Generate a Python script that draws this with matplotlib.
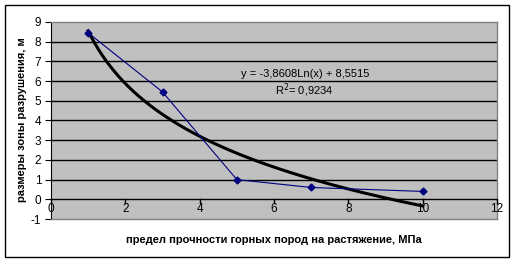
import numpy as np
import matplotlib
matplotlib.use("Agg")
import matplotlib.pyplot as plt
from matplotlib.patches import Rectangle

plt.rcParams['font.family'] = ['Liberation Sans', 'DejaVu Sans']

# data
strength = [1, 3, 5, 7, 10]
zone_size = [8.45, 5.45, 1.0, 0.6, 0.4]

# logarithmic trendline shown on the chart
coef_a = -3.8608
coef_b = 8.5515
eq_text = "y = -3,8608Ln(x) + 8,5515"
r2_text = "R$^2$= 0,9234"

xticks = [0, 2, 4, 6, 8, 10, 12]
yticks = [-1, 0, 1, 2, 3, 4, 5, 6, 7, 8, 9]

W, H = 517, 261
fig = plt.figure(figsize=(W / 100, H / 100), dpi=100)
fig.patch.set_facecolor('white')

# outer chart frame
fig.add_artist(Rectangle((5 / W, 1 - 257 / H), 504 / W, 252 / H, transform=fig.transFigure,
                         fill=False, edgecolor='black', linewidth=1))

left, right, top, bottom = 51, 497, 22, 219
ax = fig.add_axes([left / W, 1 - bottom / H, (right - left) / W, (bottom - top) / H])
ax.set_facecolor('#C0C0C0')
ax.set_xlim(0, 12)
ax.set_ylim(-1, 9)

for y in yticks[1:-1]:
    ax.axhline(y, color='black', linewidth=1, zorder=1)

for side in ['top', 'right', 'bottom']:
    ax.spines[side].set_color('#808080')
    ax.spines[side].set_linewidth(1)
ax.spines['left'].set_color('black')

ax.set_yticks(yticks)
ax.set_yticklabels([str(v) for v in yticks], fontsize=8.5)
ax.tick_params(axis='y', length=4, direction='out', pad=3)

ax.set_xticks([])
# x axis crosses at y=0 in the reference
for x in xticks:
    ax.plot([x, x], [0, -0.17], color='black', linewidth=1, clip_on=False, zorder=3)
    ax.text(x, -0.2, str(x), ha='center', va='top', fontsize=8.5, zorder=4)

xs = np.linspace(min(strength), max(strength), 200)
ax.plot(xs, coef_a * np.log(xs) + coef_b, color='black', linewidth=2.2, zorder=2)
ax.plot(strength, zone_size, color='#000080', linewidth=0.8, marker='D', markersize=3.5,
        markerfacecolor='#000080', markeredgecolor='#000080', zorder=3)

ax.text(6.85, 6.1, eq_text, ha='center', va='bottom', fontsize=8)
ax.text(6.82, 5.55, r2_text, ha='center', va='center', fontsize=8)

fig.text(274 / W, 1 - 240 / H, "предел прочности горных пород на растяжение, МПа",
         ha='center', va='center', fontsize=8, fontweight='bold')
fig.text(22 / W, 1 - 120 / H, "размеры зоны разрушения, м", ha='center', va='center',
         rotation=90, fontsize=8, fontweight='bold')

fig.savefig('out.png', dpi=100)
